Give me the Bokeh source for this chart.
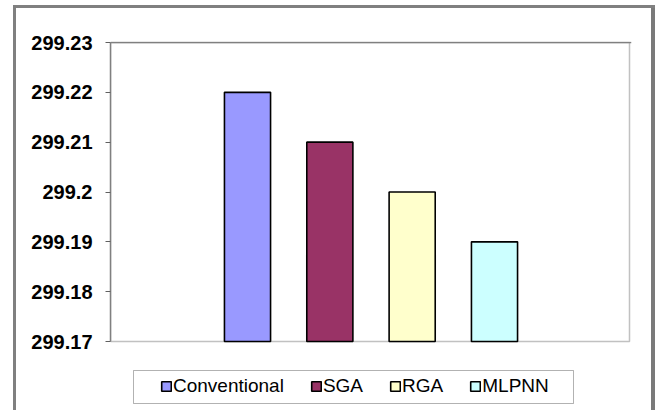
from bokeh.plotting import figure
from bokeh.models import (FactorRange, Range1d, FixedTicker, Legend, LegendItem,
                          BoxAnnotation, Span, ColumnDataSource)
from bokeh.embed import file_html
from bokeh.resources import INLINE

# ---- data ----
methods = ["Conventional", "SGA", "RGA", "MLPNN"]
values = [299.22, 299.21, 299.20, 299.19]
colors = ["#9999FF", "#993366", "#FFFFCC", "#CCFFFF"]
y_ticks = [299.17, 299.18, 299.19, 299.20, 299.21, 299.22, 299.23]
y_tick_labels = ["299.17", "299.18", "299.19", "299.2", "299.21", "299.22", "299.23"]
y_base = 299.17
y_top = 299.23

W, H = 635, 402
# frame: 1 px above the value range, 69 px below it for the legend zone
px = (y_top - y_base) / 299
y_start = y_base - 69 * px
y_end = y_top + 1 * px

p = figure(width=W, height=H, output_backend="svg", toolbar_location=None,
           x_range=FactorRange(factors=methods, range_padding=0.582),
           y_range=Range1d(y_start, y_end),
           min_border_left=94, min_border_right=20, min_border_top=33,
           min_border_bottom=0)
p.styles = {
    "margin-left": "16px",
    "margin-top": "8px",
    "box-shadow": "-3px 0 0 0 #808080, 0 -3px 0 0 #808080, "
                  "-3px -3px 0 0 #808080, 4px 0 0 0 #7a7a7a, 4px -3px 0 0 #808080",
}

p.background_fill_color = "white"
p.border_fill_color = "white"
p.outline_line_color = None
p.grid.visible = False
p.xaxis.visible = False

yax = p.yaxis[0]
yax.ticker = FixedTicker(ticks=y_ticks)
yax.bounds = (y_base, y_top)
yax.major_label_overrides = {t: s for t, s in zip(y_ticks, y_tick_labels)}
yax.major_label_text_font = "Liberation Sans"
yax.major_label_text_font_style = "bold"
yax.major_label_text_font_size = "20px"
yax.major_label_text_color = "#000000"
yax.axis_line_color = "#808080"
yax.axis_line_width = 1.5
yax.major_tick_line_color = "#606060"
yax.major_tick_in = 0
yax.major_tick_out = 5
yax.minor_tick_line_color = None
yax.major_label_standoff = 13

# plot-area box (value range only): dark bottom/right, grey top
p.add_layout(BoxAnnotation(bottom=y_base, top=y_top, right=613, right_units="canvas",
                           fill_color=None, line_color="#333333", line_width=1.5,
                           level="underlay"))
p.add_layout(Span(location=y_top, dimension="width", line_color="#808080",
                  line_width=1.5, level="underlay"))

items = []
for m, v, c in zip(methods, values, colors):
    src = ColumnDataSource(dict(x=[m], top=[v]))
    r = p.vbar(x="x", top="top", bottom=y_base, width=0.56, source=src,
               fill_color=c, line_color="#000000", line_width=1.6)
    items.append(LegendItem(label=m, renderers=[r]))

# legend box
p.add_layout(BoxAnnotation(left=117, right=557, top=362, bottom=395,
                           left_units="canvas", right_units="canvas",
                           top_units="canvas", bottom_units="canvas",
                           fill_color="white", fill_alpha=1.0,
                           line_color="#000000", line_width=1,
                           level="underlay"))

legend = Legend(items=items, orientation="horizontal", location=(50, 13),
                padding=0, margin=0, spacing=26, label_standoff=1,
                glyph_width=12, glyph_height=12, label_height=22,
                label_text_font="Liberation Sans", label_text_font_size="19px",
                label_text_color="#000000",
                border_line_color=None, background_fill_alpha=0)
p.add_layout(legend, "center")

open("out.html", "w").write(file_html(p, INLINE))
